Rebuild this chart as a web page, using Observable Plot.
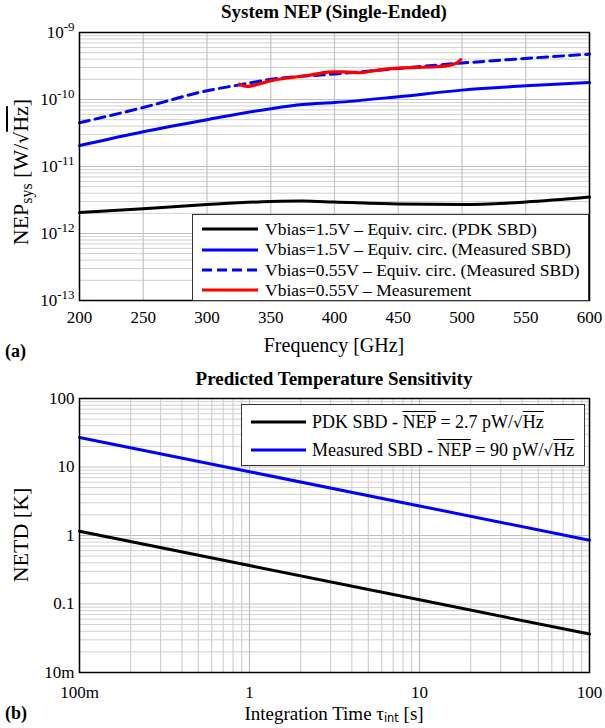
<!DOCTYPE html>
<html><head><meta charset="utf-8">
<script src="https://cdn.jsdelivr.net/npm/d3@7"></script>
<script src="https://cdn.jsdelivr.net/npm/@observablehq/plot@0.6"></script>
<style>
body{margin:0;background:#fff;}
#fig{position:relative;width:605px;height:728px;font-family:"Liberation Serif","Times New Roman",serif;color:#000;overflow:hidden;background:#fff;}
#fig svg text{font-family:"Liberation Serif","Times New Roman",serif;}
.abs{position:absolute;white-space:nowrap;line-height:1;font-family:"Liberation Serif","Times New Roman",serif;}
.c{transform:translate(-50%,-50%);}
.title{font-weight:bold;font-size:19px;}
.alab{font-size:20px;}
.blab{font-size:19px;}
.ylab{font-size:22px;}
.tag{font-weight:bold;font-size:18px;}
.rot{transform:translate(-50%,-50%) rotate(-90deg);}
.ov{text-decoration:overline;}
.legend{position:absolute;box-sizing:border-box;background:#fff;border:1px solid #333;font-family:"Liberation Serif","Times New Roman",serif;}
.row{position:absolute;left:0;display:flex;align-items:center;white-space:nowrap;}
.row svg{flex:none;}
sub{font-size:0.72em;vertical-align:-0.25em;line-height:0;}
.sq{font-family:"DejaVu Serif","Liberation Serif",serif;font-size:0.85em;}
.plot{position:absolute;left:0;}
</style></head>
<body><div id="fig"></div>
<script>
// ---- Data: (a) System NEP vs frequency ----
const freqPDK15 = [200, 250, 300, 350, 375, 400, 450, 500, 550, 600];
const nepPDK15  = [2.05e-12, 2.35e-12, 2.7e-12, 3.0e-12, 3.05e-12, 2.95e-12, 2.75e-12, 2.7e-12, 2.95e-12, 3.5e-12];
const freqMeas15 = [200, 250, 300, 350, 375, 400, 450, 500, 550, 600];
const nepMeas15  = [2.05e-11, 3.3e-11, 5.0e-11, 7.3e-11, 8.4e-11, 9.0e-11, 1.1e-10, 1.38e-10, 1.6e-10, 1.8e-10];
const freqMeas055 = [200, 250, 300, 325, 350, 400, 450, 500, 550, 600];
const nepMeas055  = [4.5e-11, 7.6e-11, 1.35e-10, 1.65e-10, 2.0e-10, 2.4e-10, 2.9e-10, 3.5e-10, 4.1e-10, 4.75e-10];
const freqMeasured = [325.5, 331.5, 349.7, 360, 380, 395, 410, 420.7, 434, 449.4, 464.6, 479.7, 490, 496, 499];
const nepMeasured  = [1.69e-10, 1.57e-10, 1.90e-10, 2.05e-10, 2.30e-10, 2.57e-10, 2.57e-10, 2.51e-10, 2.75e-10, 2.94e-10, 3.01e-10, 3.08e-10, 3.22e-10, 3.52e-10, 3.93e-10];
const freqTicks = [200, 250, 300, 350, 400, 450, 500, 550, 600];
const nepTicks = [1e-13, 1e-12, 1e-11, 1e-10, 1e-9];
const legendA = ["Vbias=1.5V – Equiv. circ. (PDK SBD)", "Vbias=1.5V – Equiv. circ. (Measured SBD)", "Vbias=0.55V – Equiv. circ. (Measured SBD)", "Vbias=0.55V – Measurement"];

// ---- Data: (b) NETD vs integration time ----
const tauInt = [0.1, 1, 10, 100];
const netdPDK  = [1.15, 0.364, 0.115, 0.0364];
const netdMeas = [27, 8.54, 2.7, 0.854];
const tauTicks = [0.1, 1, 10, 100];
const tauTickLabels = ["100m", "1", "10", "100"];
const netdTicks = [0.01, 0.1, 1, 10, 100];
const netdTickLabels = ["10m", "0.1", "1", "10", "100"];

const zip = (xs, ys) => xs.map((x, i) => ({x, y: ys[i]}));
const minorLog = (e0, e1) => { const a = []; for (let e = e0; e < e1; e++) for (let k = 2; k <= 9; k++) a.push(k * Math.pow(10, e)); return a; };

const baseStyle = {fontFamily: '"Liberation Serif","Times New Roman",serif', fontSize: "17px", background: "transparent", overflow: "visible", color: "black"};

const p1 = Plot.plot({
  width: 605, height: 330,
  marginLeft: 79, marginRight: 16, marginTop: 32, marginBottom: 30,
  style: baseStyle,
  x: {domain: [200, 600], label: null},
  y: {type: "log", domain: [1e-13, 1e-9], label: null},
  marks: [
    Plot.ruleY(minorLog(-13, -9), {stroke: "#d0d0d0", strokeWidth: 1}),
    Plot.ruleY(nepTicks, {stroke: "#bfbfbf", strokeWidth: 1}),
    Plot.ruleX(freqTicks, {stroke: "#c4c4c4", strokeWidth: 1.2}),
    Plot.axisX({ticks: freqTicks, tickSize: 0, tickPadding: 10, label: null, tickFormat: d => String(d)}),
    Plot.axisY({ticks: nepTicks, tickSize: 0, tickPadding: 5, label: null, tickFormat: d => String(Math.round(Math.log10(d)))}),
    Plot.line(zip(freqPDK15, nepPDK15), {x: "x", y: "y", stroke: "black", strokeWidth: 3, curve: "monotone-x"}),
    Plot.line(zip(freqMeas15, nepMeas15), {x: "x", y: "y", stroke: "#0000ff", strokeWidth: 3, curve: "monotone-x"}),
    Plot.line(zip(freqMeas055, nepMeas055), {x: "x", y: "y", stroke: "#0000ff", strokeWidth: 3, strokeDasharray: "10,6", curve: "monotone-x"}),
    Plot.line(zip(freqMeasured, nepMeasured), {x: "x", y: "y", stroke: "#ff0000", strokeWidth: 3.2, curve: "catmull-rom"}),
    Plot.frame({stroke: "black", strokeWidth: 1.5})
  ]
});
d3.select(p1).selectAll('g[aria-label="y-axis tick label"] text').each(function() {
  const t = d3.select(this); const e = t.text(); t.text(null);
  t.append("tspan").text("10");
  t.append("tspan").attr("dy", "-0.5em").attr("font-size", "13px").text(e);
});

const p2 = Plot.plot({
  width: 605, height: 345,
  marginLeft: 79, marginRight: 16, marginTop: 28, marginBottom: 43,
  style: baseStyle,
  x: {type: "log", domain: [0.1, 100], label: null},
  y: {type: "log", domain: [0.01, 100], label: null},
  marks: [
    Plot.ruleY(minorLog(-2, 2), {stroke: "#d0d0d0", strokeWidth: 1}),
    Plot.ruleY(netdTicks, {stroke: "#bfbfbf", strokeWidth: 1}),
    Plot.ruleX(minorLog(-1, 2), {stroke: "#d0d0d0", strokeWidth: 1.2}),
    Plot.ruleX(tauTicks, {stroke: "#bfbfbf", strokeWidth: 1.2}),
    Plot.axisX({ticks: tauTicks, tickSize: 0, tickPadding: 13, label: null, tickFormat: d => tauTickLabels[tauTicks.indexOf(d)]}),
    Plot.axisY({ticks: netdTicks, tickSize: 0, tickPadding: 5, label: null, tickFormat: d => netdTickLabels[netdTicks.indexOf(d)]}),
    Plot.line(zip(tauInt, netdPDK), {x: "x", y: "y", stroke: "black", strokeWidth: 3}),
    Plot.line(zip(tauInt, netdMeas), {x: "x", y: "y", stroke: "#0000ff", strokeWidth: 3}),
    Plot.frame({stroke: "black", strokeWidth: 1.5})
  ]
});

const fig = document.getElementById("fig");
p1.classList.add("plot"); p1.style.top = "0px";
p2.classList.add("plot"); p2.style.top = "370px";
fig.appendChild(p1); fig.appendChild(p2);

function add(html, cls, x, y, extra) {
  const d = document.createElement("div");
  d.className = "abs " + cls; d.innerHTML = html;
  d.style.left = x + "px"; d.style.top = y + "px";
  if (extra) Object.assign(d.style, extra);
  fig.appendChild(d); return d;
}
const sqrtHz = '<span class="sq">√</span><span class="ov">Hz</span>';
add("System NEP (Single-Ended)", "title c", 334, 11);
add("Frequency [GHz]", "alab c", 334, 345);
add("(a)", "tag", 5, 342);
add("NEP<sub>sys</sub> [W/" + sqrtHz + "]", "ylab rot", 21, 172);
add("Predicted Temperature Sensitivity", "title c", 334, 378);
add("NETD [K]", "ylab rot", 21, 535);
add("Integration Time τ<sub style='font-family:\"DejaVu Sans\",sans-serif;font-size:0.6em'>int</sub> [s]", "blab c", 334, 713);
add("(b)", "tag", 5, 704);

function legend(x, y, w, h, items, fontSize, rows, x0, x1, tx) {
  const L = document.createElement("div");
  L.className = "legend";
  Object.assign(L.style, {left: x + "px", top: y + "px", width: w + "px", height: h + "px", fontSize: fontSize + "px"});
  items.forEach((it, i) => {
    const r = document.createElement("div");
    r.className = "row";
    r.style.top = (rows[i] - y - 1 - 12) + "px"; r.style.height = "24px";
    r.innerHTML = `<svg width="${tx - x - 1}" height="24"><line x1="${x0 - x - 1}" x2="${x1 - x - 1}" y1="12" y2="12" stroke="${it.color}" stroke-width="3" ${it.dash ? 'stroke-dasharray="' + it.dash + '"' : ''}/></svg><span>${it.label}</span>`;
    L.appendChild(r);
  });
  fig.appendChild(L);
}
legend(192, 214, 397, 87, [
  {label: legendA[0], color: "black"},
  {label: legendA[1], color: "#0000ff"},
  {label: legendA[2], color: "#0000ff", dash: "10,5"},
  {label: legendA[3], color: "#ff0000"}
], 17.5, [229, 249.5, 270, 290], 202, 258, 265);

legend(241, 404, 344, 62, [
  {label: 'PDK SBD - <span class="ov">NEP</span> = 2.7 pW/' + sqrtHz, color: "black"},
  {label: 'Measured SBD - <span class="ov">NEP</span> = 90 pW/' + sqrtHz, color: "#0000ff"}
], 18, [422, 450], 251, 306, 312);
</script></body></html>
